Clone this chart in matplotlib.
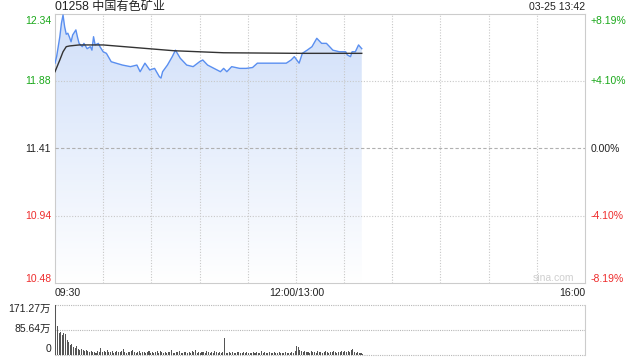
import matplotlib
matplotlib.use("Agg")
import matplotlib.pyplot as plt
import numpy as np
from matplotlib.colors import LinearSegmentedColormap

plt.rcParams['font.family'] = ['Liberation Sans', 'Noto Sans CJK SC', 'DejaVu Sans']

title = "01258 中国有色矿业"
stamp = "03-25 13:42"
prev_close = 11.41
price_ticks = [12.34, 11.88, 11.41, 10.94, 10.48]
pct_ticks = ["+8.19%", "+4.10%", "0.00%", "-4.10%", "-8.19%"]
time_labels = ["09:30", "12:00/13:00", "16:00"]
vol_ticks = [171.27, 85.64, 0]
vol_labels = ["171.27万", "85.64万", "0"]

# minutes since 09:30 (lunch break removed) and price
price_min = [0, 1, 3, 4, 5, 6, 7, 8, 9, 10, 11, 13, 14, 15, 17, 18, 20, 22, 23, 24,
             25, 27, 28, 30, 32, 35, 38, 42, 47, 51, 53, 56, 59, 62, 65, 66, 67, 70,
             73, 75, 78, 82, 86, 90, 92, 95, 99, 103, 105, 107, 110, 115, 119, 123,
             126, 136, 144, 147, 149, 152, 154, 157, 160, 163, 166, 169, 171, 173,
             177, 181, 182, 184, 185, 187, 189, 191]
price = [12.00, 12.045, 12.183, 12.276, 12.333, 12.252, 12.20, 12.207, 12.18, 12.148,
         12.195, 12.23, 12.18, 12.137, 12.114, 12.137, 12.10, 12.114, 12.09, 12.183,
         12.126, 12.137, 12.114, 12.079, 12.068, 12.01, 12.00, 11.987, 11.976, 11.987,
         11.941, 12.00, 11.953, 11.964, 11.906, 11.897, 11.941, 11.987, 12.045, 12.09,
         12.034, 11.987, 11.976, 12.01, 12.022, 11.987, 11.964, 11.941, 11.964, 11.941,
         11.976, 11.964, 11.964, 11.97, 12.00, 12.00, 12.00, 12.022, 12.045, 12.00,
         12.068, 12.09, 12.114, 12.172, 12.137, 12.137, 12.114, 12.09, 12.079, 12.079,
         12.057, 12.045, 12.079, 12.079, 12.126, 12.10]

avg_min = [0, 3, 5, 7, 9, 15, 30, 74, 105, 152, 191]
avg_price = [11.941, 12.022, 12.079, 12.114, 12.119, 12.126, 12.126, 12.086, 12.072,
             12.068, 12.068]

# volume per minute, in 万
volume = [171.27, 99, 74, 80, 68, 76, 72, 51, 46, 34, 38, 28, 24, 30, 22, 18, 20, 16, 14, 17,
          12, 10, 14, 9, 11, 8, 13, 10, 24, 9, 12, 11, 16, 10, 9, 13, 8, 11, 14, 10,
          9, 12, 20, 10, 8, 11, 9, 15, 18, 10, 7, 9, 12, 8, 10, 11, 7, 9, 13, 8,
          10, 6, 9, 12, 8, 14, 9, 7, 10, 8, 11, 9, 16, 8, 7, 10, 9, 12, 8, 6,
          9, 11, 7, 10, 8, 13, 9, 18, 8, 10, 7, 9, 11, 8, 14, 9, 7, 10, 8, 12,
          9, 8, 11, 7, 10, 59, 8, 6, 9, 7, 10, 8, 6, 9, 11, 7, 8, 10, 6, 9,
          7, 8, 6, 10, 7, 9, 8, 6, 12, 7, 9, 6, 8, 10, 7, 6, 9, 8, 7, 10,
          6, 8, 7, 9, 6, 8, 7, 10, 8, 12, 32, 28, 18, 14, 10, 12, 9, 11, 8, 13,
          9, 10, 8, 14, 9, 11, 8, 10, 12, 9, 8, 11, 9, 12, 10, 8, 11, 9, 13, 10,
          12, 9, 14, 11, 16, 22, 10, 8, 9, 7, 6, 5]

green = '#1aa81a'
red = '#ee2c2c'
grid_c = '#c8c8c8'
W, H = 640, 360

fig = plt.figure(figsize=(6.4, 3.6), dpi=100)
L, R = 55 / W, 585 / W
ax = fig.add_axes([L, 1 - 283 / H, R - L, 269 / H])
axv = fig.add_axes([L, 1 - 355 / H, R - L, 50 / H])

# main price panel
ax.set_xlim(0, 330)
ax.set_ylim(10.48, 12.34)
for y in [11.88, 10.94]:
    ax.axhline(y, color=grid_c, lw=0.8, ls=(0, (1, 1.5)), zorder=3)
ax.axhline(prev_close, color='#b0b0b0', lw=0.8, ls=(0, (3, 2)), zorder=3)
for m in range(30, 330, 30):
    ax.axvline(m, color=grid_c, lw=0.8, ls=(0, (1, 1.5)), zorder=3)

poly_x = price_min + [price_min[-1], price_min[0]]
poly_y = price + [10.48, 10.48]
patch = ax.fill(poly_x, poly_y, color='none', lw=0)[0]
grad = np.linspace(0, 1, 256).reshape(-1, 1)
cmap = LinearSegmentedColormap.from_list('fade', ['#ffffff', '#d0dff9'])
img = ax.imshow(grad, extent=[0, 330, 10.48, 12.34], origin='lower', aspect='auto',
                cmap=cmap, zorder=2)
img.set_clip_path(patch)
ax.plot(price_min, price, color='#5a8ff0', lw=1.0, zorder=4)
ax.plot(avg_min, avg_price, color='#333333', lw=1.0, zorder=5)

ax.set_xticks([])
ax.set_yticks([])
for s in ax.spines.values():
    s.set_color('#cccccc')
    s.set_linewidth(0.8)

# volume panel
axv.set_xlim(0, 330)
axv.set_ylim(0, 171.27)
axv.bar(np.arange(len(volume)) + 0.2, volume, width=0.65, align='edge', color='#555555', zorder=3)
for y in vol_ticks:
    axv.axhline(y, color='#b8b8b8', lw=0.8, ls=(0, (1, 1)), zorder=1, clip_on=False)
axv.set_xticks([])
axv.set_yticks([])
for k in ['top', 'bottom']:
    axv.spines[k].set_visible(False)
for k in ['left', 'right']:
    axv.spines[k].set_color('#cccccc')
    axv.spines[k].set_linewidth(0.8)

# texts in pixel coordinates
def px(x, y, s, **kw):
    fig.text(x / W, 1 - y / H, s, **kw)

px(55, 7, title, fontsize=8.7, color='#222222', va='center', ha='left')
px(585, 7, stamp, fontsize=7.6, color='#222222', va='center', ha='right')

colors = [green, green, '#222222', red, red]
ys = [20.5, 81.25, 148.5, 215.75, 278.5]
for i, (p, q) in enumerate(zip(price_ticks, pct_ticks)):
    px(51, ys[i], f"{p:.2f}", fontsize=7.5, color=colors[i], ha='right', va='center')
    px(591, ys[i], q, fontsize=7.5, color=colors[i], ha='left', va='center')

px(55, 293, time_labels[0], fontsize=7.6, color='#222222', ha='left', va='center')
px(297, 293, time_labels[1], fontsize=7.6, color='#222222', ha='center', va='center')
px(585, 293, time_labels[2], fontsize=7.6, color='#222222', ha='right', va='center')

px(574, 278, "sina.com", fontsize=7.5, color='#cfcfcf', ha='right', va='center')

for lab, yy in zip(vol_labels, [309, 329, 349]):
    px(51, yy, lab, fontsize=7.5, color='#222222', ha='right', va='center')

fig.savefig('out.png', dpi=100)
